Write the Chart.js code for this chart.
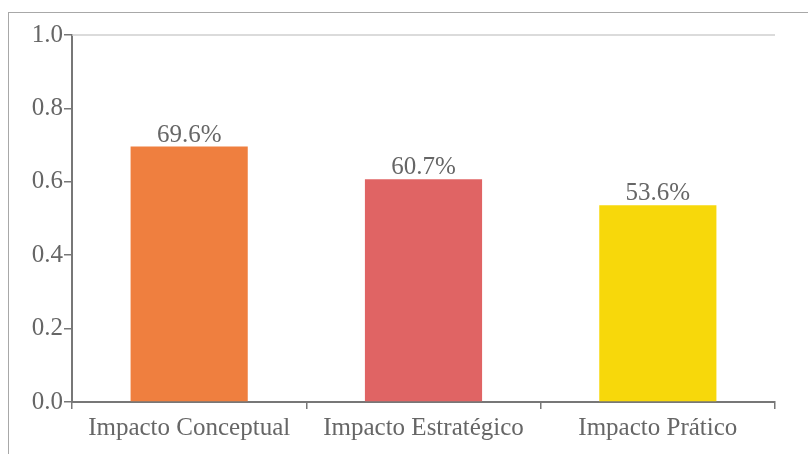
<!DOCTYPE html>
<html>
<head>
<meta charset="utf-8">
<script src="https://cdn.jsdelivr.net/npm/chart.js@4.4.0/dist/chart.umd.min.js"></script>
<style>
  html, body { margin: 0; padding: 0; background: #fff; }
  #wrap { position: relative; width: 808px; height: 454px; overflow: hidden; }
  #frame { position: absolute; left: 8px; top: 12px; width: 900px; height: 600px; border: 1px solid #a8a8a8; box-sizing: border-box; }
  canvas { position: absolute; left: 0; top: 0; }
</style>
</head>
<body>
<div id="wrap">
  <div id="frame"></div>
  <canvas id="c" width="808" height="454"></canvas>
</div>
<script>
const categories = ["Impacto Conceptual", "Impacto Estratégico", "Impacto Prático"];
const values = [0.696, 0.607, 0.536];
const barColors = ["#EF7F3F", "#E06464", "#F7D80B"];
const yTicks = [0, 0.2, 0.4, 0.6, 0.8, 1.0];

const FONT = "'Liberation Serif', 'Times New Roman', serif";

const topLine = {
  id: 'topLine',
  afterDraw(chart) {
    const { ctx, chartArea } = chart;
    ctx.save();
    ctx.strokeStyle = '#cfcfcf';
    ctx.lineWidth = 1.5;
    ctx.beginPath();
    ctx.moveTo(chartArea.left, chartArea.top);
    ctx.lineTo(chartArea.right, chartArea.top);
    ctx.stroke();
    ctx.restore();
  }
};

const valueLabels = {
  id: 'valueLabels',
  afterDatasetsDraw(chart) {
    const { ctx } = chart;
    const meta = chart.getDatasetMeta(0);
    ctx.save();
    ctx.font = '25px ' + FONT;
    ctx.fillStyle = '#666666';
    ctx.textAlign = 'center';
    ctx.textBaseline = 'alphabetic';
    meta.data.forEach((bar, i) => {
      ctx.fillText((values[i] * 100).toFixed(1) + '%', bar.x, bar.y - 5);
    });
    ctx.restore();
  }
};

new Chart(document.getElementById('c'), {
  type: 'bar',
  data: {
    labels: categories,
    datasets: [{
      data: values,
      backgroundColor: barColors,
      borderWidth: 0,
      categoryPercentage: 1.0,
      barPercentage: 0.5
    }]
  },
  options: {
    responsive: false,
    animation: false,
    devicePixelRatio: 1,
    layout: { padding: { left: 0, right: 33, top: 35, bottom: 0 } },
    plugins: { legend: { display: false }, tooltip: { enabled: false } },
    scales: {
      x: {
        grid: { display: true, drawOnChartArea: false, drawTicks: true, tickLength: 7, color: '#777', lineWidth: 1.5, offset: true },
        border: { display: true, color: '#777', width: 2 },
        ticks: { color: '#666', font: { family: FONT, size: 25 }, padding: 4, maxRotation: 0, autoSkip: false },
        afterFit(s) { s.height = 52; }
      },
      y: {
        min: 0, max: 1,
        afterBuildTicks(s) { s.ticks = yTicks.map(v => ({ value: v })); },
        grid: { display: true, drawOnChartArea: false, drawTicks: true, tickLength: 8, color: '#777', lineWidth: 1.5 },
        border: { display: true, color: '#777', width: 2 },
        ticks: { color: '#666', font: { family: FONT, size: 25 }, padding: 1, callback: v => Number(v).toFixed(1) },
        afterFit(s) { s.width = 72; }
      }
    }
  },
  plugins: [topLine, valueLabels]
});
</script>
</body>
</html>
